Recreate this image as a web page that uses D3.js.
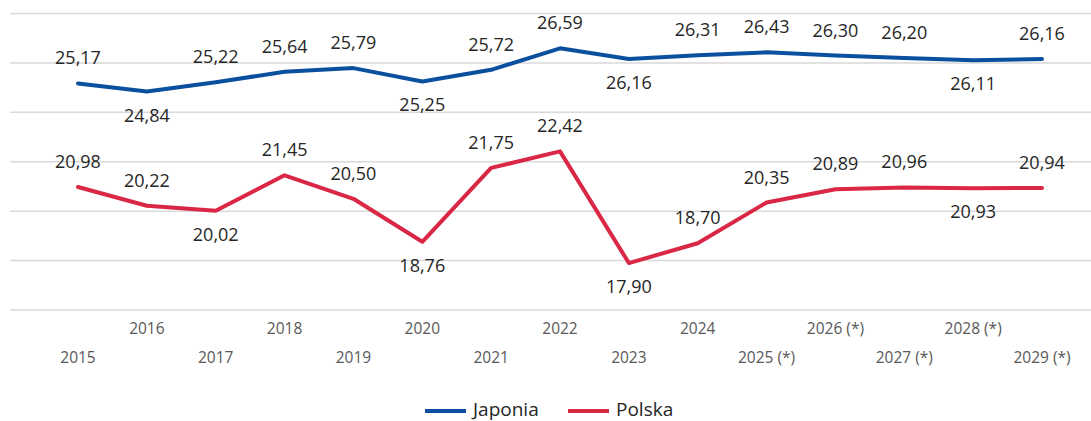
<!DOCTYPE html>
<html>
<head>
<meta charset="utf-8">
<script src="https://cdn.jsdelivr.net/npm/d3@7"></script>
<style>
  body { margin: 0; background: #fff; }
  svg { display: block; font-family: "Open Sans", "Noto Sans", sans-serif; }
  .grid line { stroke: #d9d9d9; stroke-width: 1.5; }
  .tick-label { fill: #595959; font-size: 15.5px; }
  .value-label { fill: #262626; font-size: 18px; }
  .legend-text { fill: #262626; font-size: 19px; }
</style>
</head>
<body>
<div id="chart"></div>
<script>
const years = ['2015', '2016', '2017', '2018', '2019', '2020', '2021', '2022', '2023', '2024',
  '2025 (*)', '2026 (*)', '2027 (*)', '2028 (*)', '2029 (*)'];
const japonia = [25.17, 24.84, 25.22, 25.64, 25.79, 25.25, 25.72, 26.59, 26.16, 26.31, 26.43, 26.30, 26.20, 26.11, 26.16];
const polska = [20.98, 20.22, 20.02, 21.45, 20.50, 18.76, 21.75, 22.42, 17.90, 18.70, 20.35, 20.89, 20.96, 20.93, 20.94];
// which labels sit under the line
const japoniaBelow = [1, 5, 8, 13];
const polskaBelow = [2, 5, 8, 13];
const gridValues = [16, 18, 20, 22, 24, 26, 28];

const series = [
  { name: 'Japonia', values: japonia, below: japoniaBelow, color: '#0b4f9f' },
  { name: 'Polska', values: polska, below: polskaBelow, color: '#d92745' }
];

const width = 1091, height = 421;
const fmt = v => v.toFixed(2).replace('.', ',');

const svg = d3.select('#chart').append('svg')
  .attr('width', width)
  .attr('height', height);

const x = d3.scalePoint()
  .domain(years)
  .range([78, 1042]);

const y = d3.scaleLinear()
  .domain([16, 28])
  .range([310, 13.5]);

// horizontal gridlines
svg.append('g')
  .attr('class', 'grid')
  .selectAll('line')
  .data(gridValues)
  .enter()
  .append('line')
  .attr('x1', 10)
  .attr('x2', width)
  .attr('y1', d => y(d))
  .attr('y2', d => y(d));

// staggered year labels
svg.append('g')
  .selectAll('text')
  .data(years)
  .enter()
  .append('text')
  .attr('class', 'tick-label')
  .attr('x', d => x(d))
  .attr('y', (d, i) => i % 2 === 1 ? 334 : 363)
  .attr('text-anchor', 'middle')
  .text(d => d);

const line = d3.line()
  .x((d, i) => x(years[i]))
  .y(d => y(d));

series.forEach(s => {
  svg.append('path')
    .datum(s.values)
    .attr('fill', 'none')
    .attr('stroke', s.color)
    .attr('stroke-width', 4)
    .attr('stroke-linejoin', 'round')
    .attr('stroke-linecap', 'round')
    .attr('d', line);

  svg.append('g')
    .selectAll('text')
    .data(s.values)
    .enter()
    .append('text')
    .attr('class', 'value-label')
    .attr('x', (d, i) => x(years[i]))
    .attr('y', (d, i) => s.below.includes(i) ? y(d) + 30 : y(d) - 19)
    .attr('text-anchor', 'middle')
    .text(d => fmt(d));
});

// legend
const legendX = [425, 568];
const legend = svg.append('g')
  .selectAll('g')
  .data(series)
  .enter()
  .append('g')
  .attr('transform', (d, i) => `translate(${legendX[i]},411)`);

legend.append('line')
  .attr('x1', 0)
  .attr('x2', 41)
  .attr('stroke', d => d.color)
  .attr('stroke-width', 4);

legend.append('text')
  .attr('class', 'legend-text')
  .attr('x', 48)
  .attr('y', 5)
  .text(d => d.name);
</script>
</body>
</html>
